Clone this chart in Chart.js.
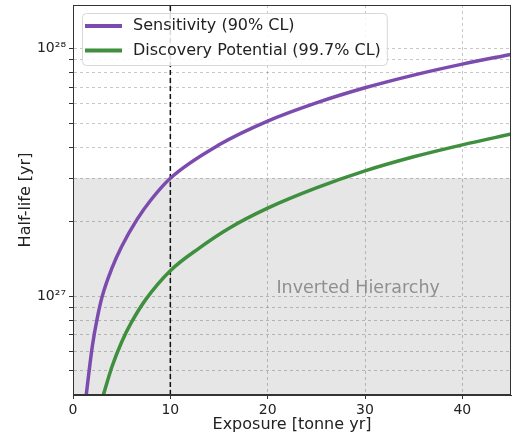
<!DOCTYPE html>
<html>
<head>
<meta charset="utf-8">
<script src="https://cdn.jsdelivr.net/npm/chart.js@4.4.1/dist/chart.umd.min.js"></script>
<style>
  html, body { margin: 0; padding: 0; background: #fff; }
  #wrap { width: 512px; height: 434px; }
</style>
</head>
<body>
<div id="wrap"><canvas id="halfLifeChart"></canvas></div>
<script>
// values: exposure [tonne yr] -> half-life [yr]
const sensExposure = [1.36, 1.6, 2.0, 2.5, 3.0, 4.0, 5.0, 6.6, 8.0, 10, 15, 20, 25, 30, 35, 40, 45];
const sensHalfLife = [4.0e26, 4.8e26, 6.35e26, 8.2e26, 1.0e27, 1.3e27, 1.59e27, 2.05e27, 2.45e27, 3.0e27,
                      4.09e27, 5.1e27, 6.04e27, 6.95e27, 7.82e27, 8.66e27, 9.48e27];
const discExposure = [3.12, 4, 5, 6, 7.5, 10, 13, 16, 20, 25, 30, 35, 40, 45];
const discHalfLife = [4.0e26, 5.2e26, 6.55e26, 7.85e26, 9.75e26, 1.27e27, 1.57e27, 1.88e27,
                      2.27e27, 2.74e27, 3.21e27, 3.66e27, 4.09e27, 4.52e27];
const seriesLabels = ['Sensitivity (90% CL)', 'Discovery Potential (99.7% CL)'];

const xRange = [0, 45];
const yRange = [4e26, 1.5e28];
const xTicks = [0, 10, 20, 30, 40];
const yGridValues = [5e26, 6e26, 7e26, 8e26, 9e26, 1e27, 2e27, 3e27, 4e27, 5e27, 6e27, 7e27, 8e27, 9e27, 1e28];
const yMajorLabels = { 1e27: '10²⁷', 1e28: '10²⁸' };

const markerExposure = 10;          // dashed vertical line
const ihBand = [4e26, 3e27];        // inverted hierarchy band
const ihLabel = 'Inverted Hierarchy';
const ihLabelAt = [29.3, 1.08e27];

const toPoints = (xs, ys) => xs.map((x, i) => ({ x: x, y: ys[i] }));
const FONT = '"DejaVu Sans", Verdana, sans-serif';
const PURPLE = '#7b4cae';
const GREEN = '#3f8f3f';

// gray band behind grid + label
const bandPlugin = {
    id: 'ihBand',
    beforeDraw(chart) {
        const { ctx, chartArea, scales } = chart;
        const yTop = scales.y.getPixelForValue(ihBand[1]);
        const yBot = scales.y.getPixelForValue(ihBand[0]);
        ctx.save();
        ctx.fillStyle = '#e6e6e6';
        ctx.fillRect(chartArea.left, yTop, chartArea.right - chartArea.left, yBot - yTop);
        ctx.restore();
    },
    beforeDatasetsDraw(chart) {
        const { ctx, scales } = chart;
        ctx.save();
        ctx.font = '17.5px ' + FONT;
        ctx.fillStyle = '#8f8f8f';
        ctx.textAlign = 'center';
        ctx.textBaseline = 'middle';
        ctx.fillText(ihLabel, scales.x.getPixelForValue(ihLabelAt[0]), scales.y.getPixelForValue(ihLabelAt[1]));
        ctx.restore();
    }
};

// legend inside the axes, plus top/right spines
const framePlugin = {
    id: 'frame',
    afterDatasetsDraw(chart) {
        const { ctx, chartArea } = chart;
        const sets = chart.data.datasets.filter(d => d.label);
        ctx.save();
        ctx.font = '16px ' + FONT;
        const textW = Math.max(...sets.map(d => ctx.measureText(d.label).width));
        const bx = chartArea.left + 9, by = chartArea.top + 8;
        const rowH = 24.5, pad = 3, sample = 37, gap = 11;
        const bw = pad + sample + gap + textW + 6, bh = 52;
        ctx.fillStyle = 'rgba(255,255,255,0.85)';
        ctx.strokeStyle = '#d8d8d8';
        ctx.lineWidth = 1;
        ctx.beginPath();
        ctx.roundRect(bx + 0.5, by + 0.5, bw, bh, 4);
        ctx.fill();
        ctx.stroke();
        sets.forEach((d, i) => {
            const cy = by + 13 + i * rowH;
            ctx.strokeStyle = d.borderColor;
            ctx.lineWidth = 4;
            ctx.beginPath();
            ctx.moveTo(bx + pad, cy);
            ctx.lineTo(bx + pad + sample, cy);
            ctx.stroke();
            ctx.fillStyle = '#222';
            ctx.textBaseline = 'middle';
            ctx.fillText(d.label, bx + pad + sample + gap, cy);
        });
        ctx.restore();
    },
    afterDraw(chart) {
        const { ctx, chartArea } = chart;
        ctx.save();
        ctx.strokeStyle = '#333';
        ctx.lineWidth = 1;
        ctx.strokeRect(chartArea.left + 0.5, chartArea.top + 0.5,
            chartArea.right - chartArea.left - 1, chartArea.bottom - chartArea.top - 1);
        ctx.restore();
    }
};

// fixed axis sizes, no extra room for edge labels
const fitAxis = size => s => {
    if (s.isHorizontal()) s.height = size; else s.width = size;
    s.paddingTop = s.paddingBottom = s.paddingLeft = s.paddingRight = 0;
};

new Chart(document.getElementById('halfLifeChart'), {
    type: 'line',
    data: {
        datasets: [
            {
                label: seriesLabels[0],
                data: toPoints(sensExposure, sensHalfLife),
                borderColor: PURPLE,
                borderWidth: 3.5,
                pointRadius: 0,
                cubicInterpolationMode: 'monotone'
            },
            {
                label: seriesLabels[1],
                data: toPoints(discExposure, discHalfLife),
                borderColor: GREEN,
                borderWidth: 3.5,
                pointRadius: 0,
                cubicInterpolationMode: 'monotone'
            },
            {
                label: '',
                data: [{ x: markerExposure, y: yRange[0] }, { x: markerExposure, y: yRange[1] }],
                borderColor: '#111',
                borderWidth: 1.5,
                borderDash: [5, 3],
                pointRadius: 0
            }
        ]
    },
    options: {
        responsive: true,
        maintainAspectRatio: false,
        animation: false,
        layout: { padding: { top: 5, right: 1, left: 0, bottom: 0 } },
        plugins: {
            legend: { display: false },
            tooltip: { enabled: false }
        },
        scales: {
            x: {
                type: 'linear',
                min: xRange[0],
                max: xRange[1],
                afterFit: fitAxis(39),
                afterBuildTicks: s => { s.ticks = xTicks.map(v => ({ value: v })); },
                grid: { color: 'rgba(0,0,0,0.22)', tickColor: '#333', tickLength: 4 },
                border: { display: true, color: '#333', dash: [3, 3] },
                ticks: { color: '#222', font: { family: FONT, size: 14 }, padding: 3, maxRotation: 0 },
                title: {
                    display: true,
                    text: 'Exposure [tonne yr]',
                    color: '#222',
                    font: { family: FONT, size: 16 },
                    padding: { top: 0, bottom: 0 }
                }
            },
            y: {
                type: 'logarithmic',
                min: yRange[0],
                max: yRange[1],
                afterFit: fitAxis(73),
                afterBuildTicks: s => { s.ticks = yGridValues.map(v => ({ value: v })); },
                grid: { color: 'rgba(0,0,0,0.22)', tickColor: '#333', tickLength: 4 },
                border: { display: true, color: '#333', dash: [3, 3] },
                ticks: {
                    color: '#222',
                    font: { family: FONT, size: 14 },
                    padding: 3,
                    autoSkip: false,
                    callback: v => yMajorLabels[v] || ''
                },
                title: {
                    display: true,
                    text: 'Half-life [yr]',
                    color: '#222',
                    font: { family: FONT, size: 16 },
                    padding: { top: 16, bottom: 0 }
                }
            }
        }
    },
    plugins: [bandPlugin, framePlugin]
});
</script>
</body>
</html>
